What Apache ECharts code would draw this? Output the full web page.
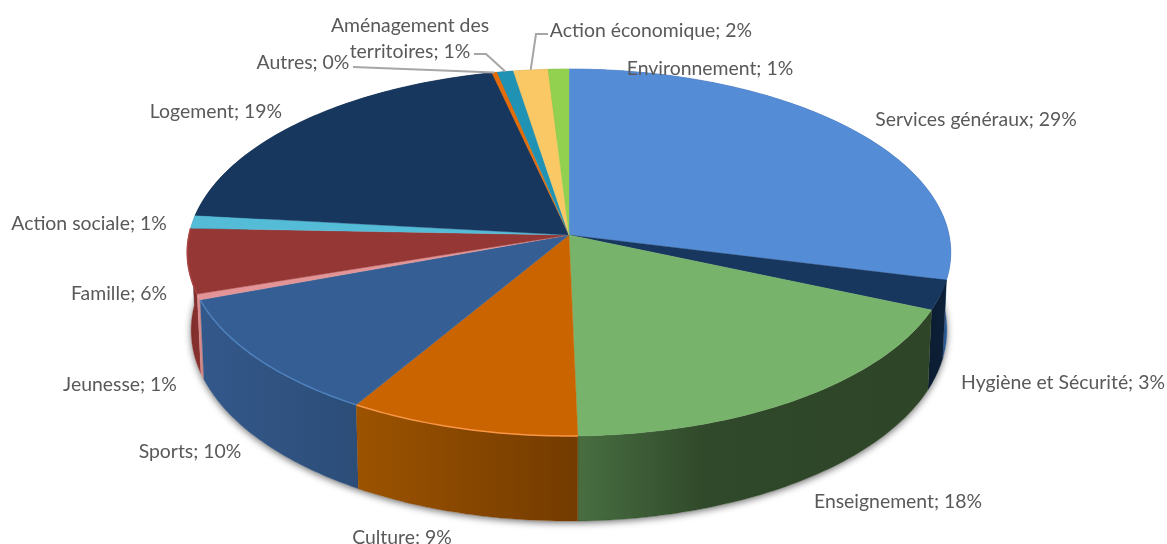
<!DOCTYPE html>
<html><head><meta charset="utf-8">
<style>html,body{margin:0;padding:0;background:#fff}#c{width:1167px;height:544px}</style>
<script src="https://cdn.jsdelivr.net/npm/echarts@6/dist/echarts.min.js"></script>
</head><body><div id="c"></div>
<script>
const categories = ['Services généraux','Hygiène et Sécurité','Enseignement','Culture','Sports','Jeunesse','Famille','Action sociale','Logement','Autres','Aménagement des\nterritoires','Action économique','Environnement'];
const sliceShares = [28.9,2.6,18.17,8.93,10.8,0.5,5.7,1.15,19.7,0.25,0.75,1.6,0.96];
const printedPercents = [29,3,18,9,10,1,6,1,19,0,1,2,1];

// STYLE
const topColors = ['#558cd6','#17375e','#77b36b','#c96400','#355f94','#e39496','#953735','#55bcd8','#17375e','#e36c09','#2092b4','#fac864','#92d050'];
const rimColors = [null,null,null,'#f79646','#4f81bd',null,'#a94442',null,null,null,null,null,null];
const wallStops = [
  [[0,'#3a6aa8'],[1,'#2c5a94']],[[0,'#0a1c30'],[1,'#0c2038']],
  [[0,'#486e40'],[0.12,'#40623a'],[0.36,'#30492a'],[1,'#2e4527']],[[0,'#9c5300'],[1,'#733b00']],
  [[0,'#33588a'],[1,'#2c4d78']],[[0,'#e39496'],[1,'#c98082']],
  [[0,'#7a2c2a'],[1,'#8a3230']],[[0,'#3f8ea3'],[1,'#3f8ea3']],
  [[0,'#0f2540'],[1,'#0f2540']],[[0,'#a04d06'],[1,'#a04d06']],
  [[0,'#176a82'],[1,'#176a82']],[[0,'#b8934a'],[1,'#b8934a']],[[0,'#6c9a3b'],[1,'#6c9a3b']]];

// LAYOUT: pie projection and label placement (text centre; label leader-line bends)
const cx = 569, cy = 235, Rx = 380, Ry = 181.8, persp = 0.0954, depth = 77, bottomShrink = 0.99;
const labelCentres = [[976,120],[1063,383],[898,502],[402,538],[190,452],[120,385],[119,294],[89,224],[216,112],[303,63],[410,39],[651,31],[710,69]];
const leaderBends = {9:[[353,67]],10:[[474,54],[486,54]],11:[[548,34],[536,34]]};

const total = sliceShares.reduce((a,b)=>a+b,0);
const starts = []; sliceShares.reduce((acc,v,i)=>{starts[i]=acc;return acc+v;},0);
const angle = s => s/total*2*Math.PI;
function project(theta, down){
  const u=Math.sin(theta), v=Math.cos(theta), w=1+persp*v;
  return [cx+Rx*u/w*(down?bottomShrink:1), cy-Ry*v/w+(down?depth/w:0)];
}
function arc(a0,a1,down){
  const n=Math.max(2,Math.ceil((a1-a0)/(Math.PI/180)));
  const pts=[]; for(let k=0;k<=n;k++) pts.push(project(a0+(a1-a0)*k/n,down));
  return pts;
}
const records = categories.map((c,i)=>[i,sliceShares[i],printedPercents[i]]);

function renderWall(params, api){
  const i=api.value(0), a0=angle(starts[i]), a1=angle(starts[i]+api.value(1));
  const top=arc(a0,a1,false), bottom=arc(a0,a1,true).reverse();
  const midY=project((a0+a1)/2,false)[1];
  const children=[];
  if(i===0){
    const ring=arc(0,2*Math.PI,true);
    children.push({type:'polygon',z2:-5,shape:{points:ring},style:{fill:'#fff',shadowBlur:7,shadowColor:'rgba(0,0,0,0.55)',shadowOffsetX:0,shadowOffsetY:2}});
  }
  const stops=wallStops[i];
  children.push({type:'polygon',z2:midY,shape:{points:top.concat(bottom)},style:{
    fill:{type:'linear',x:0,y:0,x2:1,y2:0,colorStops:stops.map(s=>({offset:s[0],color:s[1]}))},
    stroke:stops[stops.length-1][1],lineWidth:0.3}});
  return {type:'group',children};
}
function renderTop(params, api){
  const i=api.value(0), a0=angle(starts[i]), a1=angle(starts[i]+api.value(1));
  const edge=arc(a0,a1,false);
  const children=[{type:'polygon',shape:{points:[[cx,cy]].concat(edge)},style:{fill:topColors[i],stroke:topColors[i],lineWidth:0.4}}];
  if(rimColors[i]) children.push({type:'polyline',shape:{points:edge},style:{fill:null,stroke:rimColors[i],lineWidth:1.5}});
  return {type:'group',children};
}
function renderLabel(params, api){
  const i=api.value(0), a0=angle(starts[i]), a1=angle(starts[i]+api.value(1));
  const children=[{type:'text',z2:10,style:{x:labelCentres[i][0],y:labelCentres[i][1],text:categories[i]+'; '+api.value(2)+'%',
    align:'center',verticalAlign:'middle',fill:'#595959',font:'19.4px Lato',lineHeight:26}}];
  if(leaderBends[i]) children.push({type:'polyline',z2:9,shape:{points:leaderBends[i].concat([project((a0+a1)/2,false)])},style:{fill:null,stroke:'#a6a6a6',lineWidth:2}});
  return {type:'group',children};
}
const chart=echarts.init(document.getElementById('c'),null,{renderer:'canvas'});
const base={type:'custom',coordinateSystem:'none',data:records,silent:true,animation:false,encode:{value:[1]}};
chart.setOption({
  backgroundColor:'#fff',animation:false,
  series:[
    Object.assign({},base,{renderItem:renderWall,z:1}),
    Object.assign({},base,{renderItem:renderTop,z:2}),
    Object.assign({},base,{renderItem:renderLabel,z:3})
  ]
});
</script></body></html>
